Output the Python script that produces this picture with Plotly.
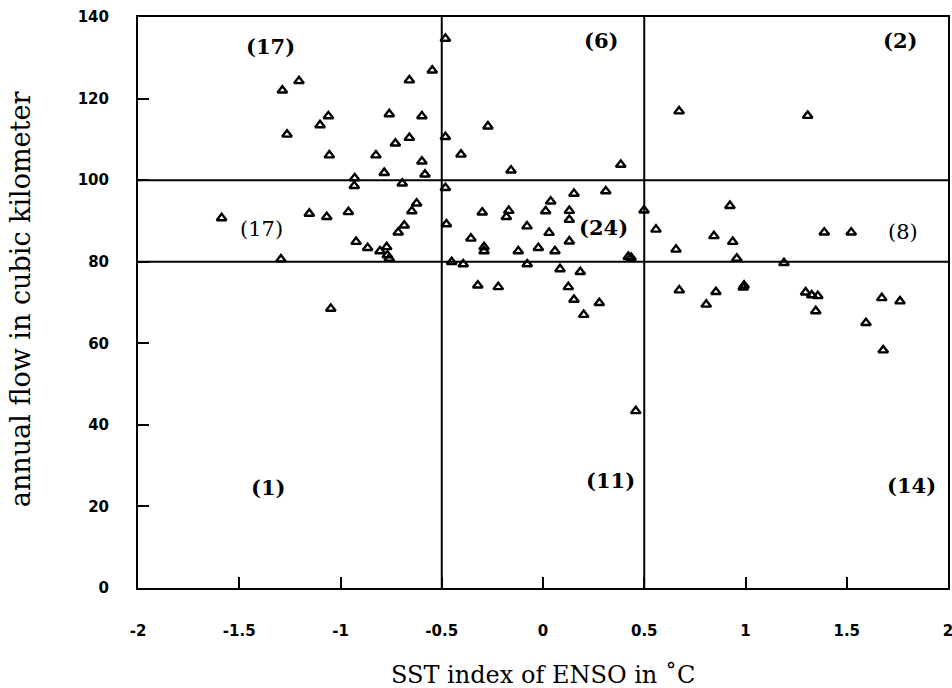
import plotly.graph_objects as go

# SST index (deg C) and annual flow (km^3)
sst = [
    -1.287, -1.205, -1.264, -1.101, -1.060, -1.055, -0.759, -0.660, -0.547, -0.598,
    -0.729, -0.660, -0.825, -0.598, -0.784, -0.583, -0.930,
    -0.482, -0.482, -0.272, -0.405, -0.158, 0.384,
    0.672, 1.307,
    -0.932, -0.695, -0.624, -0.648, -0.685, -0.715, -1.587, -1.154, -1.068, -0.961,
    -0.923, -0.866, -0.805, -0.772, -0.769, -0.759, -1.294,
    -1.048,
    -0.482, 0.153, 0.310, 0.038, 0.013, -0.300, -0.169, -0.181, 0.130, 0.130,
    -0.477, -0.079, 0.030, 0.130, -0.356, -0.291, -0.291, -0.122, -0.023, 0.059,
    0.421, 0.435, 0.499,
    -0.451, -0.394, -0.078, 0.084, 0.184, -0.322, -0.221, 0.125, 0.153, 0.278,
    0.201, 0.458,
    0.558, 0.923, 0.844, 0.937, 0.657, 0.957, 1.389, 1.522,
    1.190, 0.673, 0.854, 0.806, 0.993, 0.989, 1.297, 1.327, 1.357, 1.347,
    1.673, 1.763, 1.595, 1.680,
]
flow = [
    122.0, 124.3, 111.2, 113.5, 115.7, 106.1, 116.2, 124.5, 126.9, 115.7,
    109.0, 110.4, 106.1, 104.6, 101.8, 101.4, 100.5,
    134.7, 110.6, 113.2, 106.3, 102.4, 103.8,
    116.9, 115.8,
    98.6, 99.2, 94.3, 92.4, 88.9, 87.2, 90.7, 91.8, 91.0, 92.2,
    84.9, 83.4, 82.6, 83.6, 81.6, 80.8, 80.6,
    68.5,
    98.1, 96.7, 97.3, 94.8, 92.4, 92.1, 92.5, 91.0, 92.5, 90.3,
    89.2, 88.7, 87.1, 85.0, 85.7, 83.6, 82.6, 82.6, 83.4, 82.6,
    81.2, 81.0, 92.6,
    79.95, 79.4, 79.4, 78.2, 77.5, 74.2, 73.8, 73.8, 70.7, 69.9,
    67.0, 43.4,
    87.9, 93.7, 86.3, 84.9, 83.0, 80.8, 87.2, 87.2,
    79.7, 73.0, 72.6, 69.5, 74.2, 73.7, 72.5, 71.8, 71.6, 67.9,
    71.1, 70.3, 65.0, 58.3,
]

# quadrant counts
count_text = ["(17)", "(17)", "(1)", "(6)", "(24)", "(11)", "(2)", "(8)", "(14)"]
count_x = [-1.348, -1.389, -1.357, 0.285, 0.301, 0.334, 1.763, 1.779, 1.821]
count_y = [132.8, 88.1, 24.6, 134.3, 88.5, 26.4, 134.3, 87.3, 25.2]
count_bold = [True, False, True, True, True, True, True, False, True]

x_dividers = [-0.5, 0.5]
y_dividers = [80, 100]

x_ticks = [-2, -1.5, -1, -0.5, 0, 0.5, 1, 1.5, 2]
y_ticks = [0, 20, 40, 60, 80, 100, 120, 140]

fig = go.Figure()
fig.add_trace(go.Scatter(
    x=sst, y=flow, mode="markers",
    marker=dict(symbol="triangle-up-open", size=8.5, color="black",
                line=dict(color="black", width=2.4)),
    showlegend=False, cliponaxis=False,
))

for xv in x_dividers:
    fig.add_shape(type="line", xref="x", yref="paper", x0=xv, x1=xv, y0=0, y1=1,
                  line=dict(color="black", width=2))
for yv in y_dividers:
    fig.add_shape(type="line", xref="paper", yref="y", x0=0, x1=1, y0=yv, y1=yv,
                  line=dict(color="black", width=2))

for t, xx, yy, b in zip(count_text, count_x, count_y, count_bold):
    fig.add_annotation(x=xx, y=yy, xref="x", yref="y", text=t, showarrow=False,
                       font=dict(family="DejaVu Serif", size=21, color="black",
                                 weight="bold" if b else "normal"))

fig.add_annotation(text="SST index of ENSO in \u02daC", xref="paper", yref="paper",
                   x=0.5, y=-0.153, xanchor="center", yanchor="middle", showarrow=False,
                   font=dict(family="DejaVu Serif", size=24, color="black"))
fig.add_annotation(text="annual flow in cubic kilometer", xref="paper", yref="paper",
                   x=-0.145, y=0.505, xanchor="center", yanchor="middle", showarrow=False,
                   textangle=-90,
                   font=dict(family="DejaVu Serif", size=27, color="black"))

axis_common = dict(showline=True, mirror=True, linecolor="black", linewidth=2,
                   ticks="inside", ticklen=11, tickwidth=1.5, tickcolor="black",
                   showgrid=False, zeroline=False, automargin=False,
                   ticklabeloverflow="allow",
                   tickfont=dict(family="DejaVu Sans", size=15, color="black", weight="bold"))

fig.update_xaxes(range=[-2, 2], tickvals=x_ticks, ticktext=[f"{v:g}" for v in x_ticks],
                 ticklabelstandoff=28, **axis_common)
fig.update_yaxes(range=[0, 140], tickvals=y_ticks, ticktext=[str(v) for v in y_ticks],
                 ticklabelstandoff=24, **axis_common)

fig.update_layout(width=952, height=688, autosize=False,
                  margin=dict(l=138, r=4, t=17, b=100),
                  paper_bgcolor="white", plot_bgcolor="white")

# remove the default page margin so the figure fills the window exactly
fig.write_html("out.html", config={"displayModeBar": False},
               post_script="document.body.style.margin='0';document.body.style.overflow='hidden';")
